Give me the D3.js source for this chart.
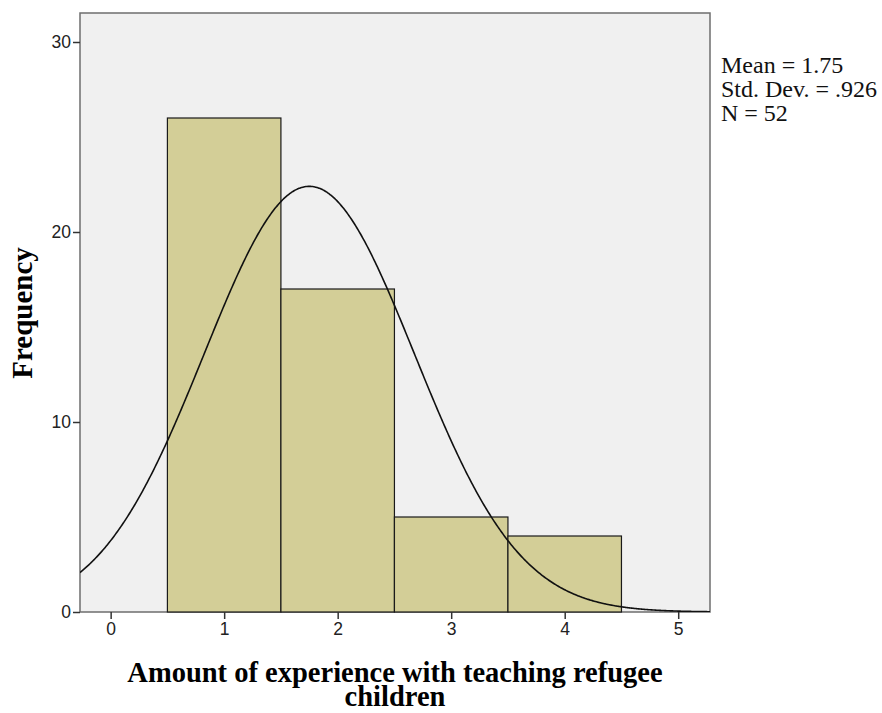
<!DOCTYPE html>
<html><head><meta charset="utf-8">
<script src="https://cdn.jsdelivr.net/npm/d3@7"></script>
<style>body{margin:0;background:#fff}</style>
</head><body>
<svg id="c" width="882" height="713"></svg>
<script>
const binStarts = [0.5, 1.5, 2.5, 3.5];
const binEnds = [1.5, 2.5, 3.5, 4.5];
const counts = [26, 17, 5, 4];
const xTicks = [0, 1, 2, 3, 4, 5];
const yTicks = [0, 10, 20, 30];
const statsLines = ["Mean = 1.75", "Std. Dev. = .926", "N = 52"];
const mean = 1.75, sd = 0.926, n = 52, binWidth = 1;

const svg = d3.select("#c");
const L = 80, R = 710, T = 13, B = 612;
const x = d3.scaleLinear().domain([-0.27, 5.28]).range([L, R]);
const y = d3.scaleLinear().domain([0, 31.5]).range([B, B - 31.5 * 19]);

svg.append("rect").attr("x", L).attr("y", T).attr("width", R - L).attr("height", B - T)
  .attr("fill", "#f0f0f0").attr("stroke", "#6e6e6e").attr("stroke-width", 1.5);

svg.append("defs").append("clipPath").attr("id", "clip")
  .append("rect").attr("x", L).attr("y", T).attr("width", R - L).attr("height", B - T);

svg.append("g").selectAll("rect").data(counts).join("rect")
  .attr("x", (d, i) => x(binStarts[i]))
  .attr("width", (d, i) => x(binEnds[i]) - x(binStarts[i]))
  .attr("y", d => y(d))
  .attr("height", d => y(0) - y(d))
  .attr("fill", "#d3ce97").attr("stroke", "#1a1a1a").attr("stroke-width", 1.2);

// normal curve from the stats
const pts = d3.range(-0.27, 5.29, 0.01).map(v => [v, n * binWidth / (sd * Math.sqrt(2 * Math.PI)) * Math.exp(-0.5 * ((v - mean) / sd) ** 2)]);
svg.append("path").datum(pts).attr("clip-path", "url(#clip)")
  .attr("d", d3.line().x(d => x(d[0])).y(d => y(d[1])).curve(d3.curveBasis))
  .attr("fill", "none").attr("stroke", "#111").attr("stroke-width", 1.6);

const xa = svg.append("g").attr("transform", `translate(0,${B})`)
  .call(d3.axisBottom(x).tickValues(xTicks).tickSize(7).tickPadding(4).tickFormat(d3.format("d")));
const ya = svg.append("g").attr("transform", `translate(${L},0)`)
  .call(d3.axisLeft(y).tickValues(yTicks).tickSize(7).tickPadding(2).tickFormat(d3.format("d")));
[xa, ya].forEach(a => {
  a.attr("font-size", null).attr("font-family", null);
  a.select(".domain").remove();
  a.selectAll("line").attr("stroke", "#333").attr("stroke-width", 1.5);
  a.selectAll("text").style("font-family", "Arial, 'Liberation Sans', sans-serif").style("font-size", "17.5px").attr("fill", "#222");
});

svg.append("g").selectAll("text").data(statsLines).join("text")
  .attr("x", 721).attr("y", (d, i) => 73 + i * 24)
  .style("font-family", "'Times New Roman', 'Liberation Serif', serif").style("font-size", "24px")
  .attr("fill", "#111").text(d => d);

svg.append("text").attr("transform", "translate(32,313) rotate(-90)").attr("text-anchor", "middle")
  .style("font-family", "'Times New Roman', 'Liberation Serif', serif").style("font-weight", "bold")
  .style("font-size", "29px").text("Frequency");

const xt = svg.append("text").attr("text-anchor", "middle")
  .style("font-family", "'Times New Roman', 'Liberation Serif', serif").style("font-weight", "bold")
  .style("font-size", "28.5px");
xt.append("tspan").attr("x", 395).attr("y", 682).text("Amount of experience with teaching refugee");
xt.append("tspan").attr("x", 395).attr("y", 706).text("children");
</script>
</body></html>
